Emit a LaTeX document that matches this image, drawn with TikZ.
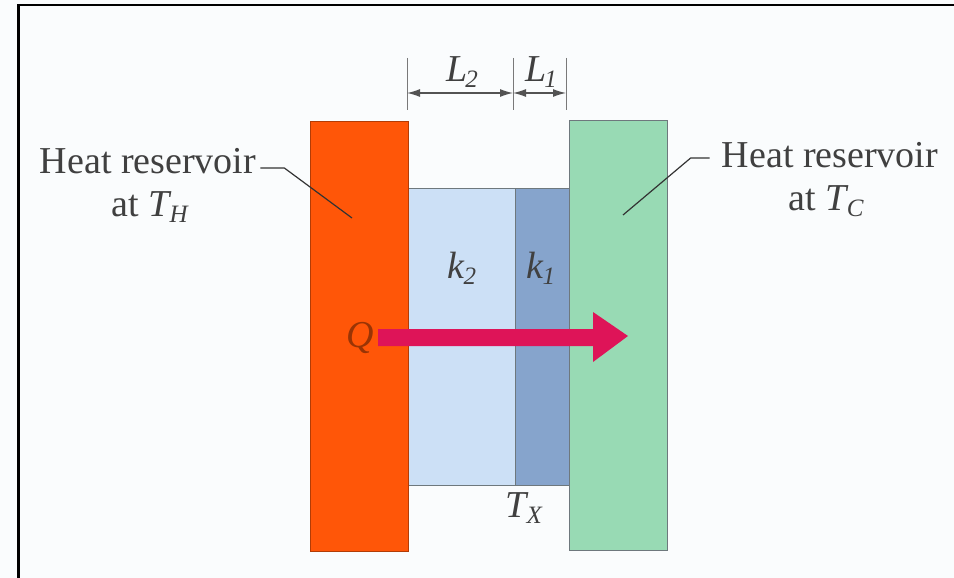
\documentclass[tikz,border=0pt]{standalone}
\usepackage{fontspec}
\setmainfont{Liberation Serif}
\usetikzlibrary{arrows.meta}
\definecolor{hot}{RGB}{255,86,8}
\definecolor{cold}{RGB}{152,218,180}
\definecolor{ktwo}{RGB}{204,224,246}
\definecolor{kone}{RGB}{134,164,204}
\definecolor{qarrow}{RGB}{222,20,88}
\definecolor{txt}{RGB}{64,64,64}
\definecolor{edge}{RGB}{110,120,125}
\definecolor{bg}{RGB}{250,252,253}
\newcommand{\itsub}[2]{\textit{#1}\kern-0.05em\raisebox{-0.35ex}{\fontsize{25}{25}\selectfont\textit{#2}}}
\begin{document}
\begin{tikzpicture}[x=1pt,y=-1pt,
  lab/.style={text=txt,font=\fontsize{38}{43}\selectfont,inner sep=0pt},
  slab/.style={draw=edge,line width=1pt},
  leader/.style={draw=txt!80!black,line width=1.2pt},
  dimline/.style={draw=txt!70,line width=1pt},
  dimarrow/.style={draw=txt!90,line width=1.2pt,{Latex[length=13pt,width=8pt]}-{Latex[length=13pt,width=8pt]}}]
\useasboundingbox (0,0) rectangle (954,578);
\fill[bg] (0,0) rectangle (954,578);
\draw[line width=2.5pt,black] (18.5,578) -- (18.5,5) -- (954,5);
% slabs
\fill[ktwo] (408,188) rectangle (515,485);
\fill[kone] (515,188) rectangle (569,485);
\draw[slab] (408,188) rectangle (515,485);
\draw[slab] (515,188) rectangle (569,485);
\fill[hot] (310,121) rectangle (408,551);
\draw[draw=hot!70!black,line width=0.8pt] (310,121) rectangle (408,551);
\fill[cold] (569,120) rectangle (667,550);
\draw[slab] (569,120) rectangle (667,550);
% dimension
\coordinate (d1) at (407,93);
\coordinate (d2) at (513,93);
\coordinate (d3) at (566,93);
\draw[dimline] (407,58) -- (407,110);
\draw[dimline] (513,58) -- (513,110);
\draw[dimline] (566,58) -- (566,110);
\draw[dimarrow] (d1) -- (d2);
\draw[dimarrow] (d2) -- (d3);
\node[lab] (L2) at (462,72) {\itsub{L}{2}};
\node[lab] (L1) at (541,72) {\itsub{L}{1}};
% k labels
\node[lab] (k2) at (462,268) {\itsub{k}{2}};
\node[lab] (k1) at (541,268) {\itsub{k}{1}};
% heat flow arrow
\node[lab,text=hot!60!black] (Q) at (360,338) {\textit{Q}};
\fill[qarrow] (378,329) -- (593,329) -- (593,312) -- (628,336) -- (593,362) -- (593,346) -- (378,346) -- cycle;
\node[lab] (TX) at (524,508) {\itsub{T}{X}};
% reservoir labels
\node[lab,anchor=base] (hl1) at (148,173) {Heat reservoir};
\node[lab,anchor=base] (hl2) at (150,216) {at \itsub{T}{H}};
\node[lab,anchor=base] (cl1) at (830,167) {Heat reservoir};
\node[lab,anchor=base] (cl2) at (826,210) {at \itsub{T}{C}};
\coordinate (hend) at (352,218);
\coordinate (cend) at (623,215);
\draw[leader] ([xshift=4pt,yshift=5pt]hl1.base east) -- ++(24,0) -- (hend);
\draw[leader] ([xshift=-12pt,yshift=9pt]cl1.base west) -- ++(-19,0) -- (cend);
\end{tikzpicture}
\end{document}
